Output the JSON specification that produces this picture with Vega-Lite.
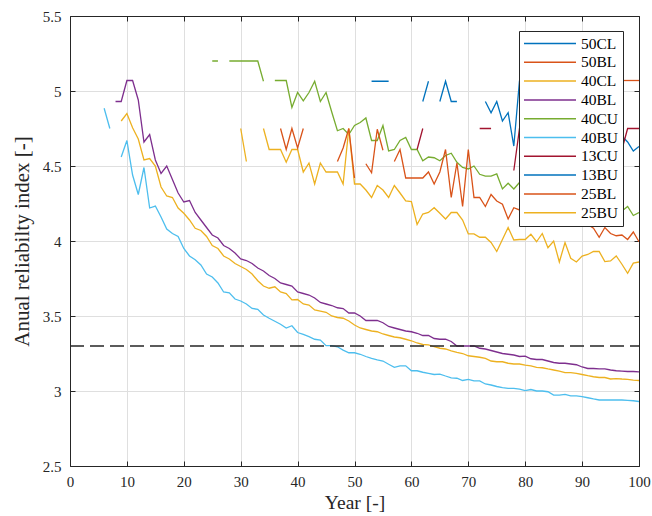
{
"$schema": "https://vega.github.io/schema/vega-lite/v6.json",
"width": 569, "height": 450,
"autosize": {"type": "none"},
"padding": {"left": 70, "top": 16, "right": 13, "bottom": 50},
"background": "white",
"datasets": {"threshold": [{"level": 3.3}]},
"config": {
  "view": {"stroke": null},
  "font": "Liberation Serif",
  "axis": {"labelFont": "Liberation Serif", "titleFont": "Liberation Serif", "labelFontSize": 15, "titleFontWeight": "normal", "labelColor": "#262626", "titleColor": "#262626", "tickColor": "#262626", "tickSize": 5, "tickWidth": 1, "domain": false, "labelFlush": false, "gridColor": "#DFDFDF", "gridWidth": 1, "gridOpacity": 1},
  "legend": {"orient": "none", "legendX": 449, "legendY": 15, "fillColor": "white", "strokeColor": "#262626", "padding": 4, "symbolType": "stroke", "symbolSize": 2704, "symbolStrokeWidth": 1.5, "labelFont": "Liberation Serif", "labelFontSize": 15.5, "labelColor": "#000000", "rowPadding": 1.8, "clipHeight": 17, "labelOffset": 4}
},
"layer": [
{
  "data": {"values": [
{"series":"40BL","year":8,"value":4.93},{"series":"40BL","year":9,"value":4.93},{"series":"40BL","year":10,"value":5.07},{"series":"40BL","year":11,"value":5.07},{"series":"40BL","year":12,"value":4.94},{"series":"40BL","year":13,"value":4.66},{"series":"40BL","year":14,"value":4.71},{"series":"40BL","year":15,"value":4.54},{"series":"40BL","year":16,"value":4.45},{"series":"40BL","year":17,"value":4.5},{"series":"40BL","year":18,"value":4.41},{"series":"40BL","year":19,"value":4.32},{"series":"40BL","year":20,"value":4.26},{"series":"40BL","year":21,"value":4.27},{"series":"40BL","year":22,"value":4.19},{"series":"40BL","year":23,"value":4.14},{"series":"40BL","year":24,"value":4.09},{"series":"40BL","year":25,"value":4.04},{"series":"40BL","year":26,"value":4.02},{"series":"40BL","year":27,"value":3.97},{"series":"40BL","year":28,"value":3.95},{"series":"40BL","year":29,"value":3.92},{"series":"40BL","year":30,"value":3.88},{"series":"40BL","year":31,"value":3.87},{"series":"40BL","year":32,"value":3.85},{"series":"40BL","year":33,"value":3.82},{"series":"40BL","year":34,"value":3.8},{"series":"40BL","year":35,"value":3.77},{"series":"40BL","year":36,"value":3.75},{"series":"40BL","year":37,"value":3.72},{"series":"40BL","year":38,"value":3.71},{"series":"40BL","year":39,"value":3.7},{"series":"40BL","year":40,"value":3.66},{"series":"40BL","year":41,"value":3.65},{"series":"40BL","year":42,"value":3.64},{"series":"40BL","year":43,"value":3.62},{"series":"40BL","year":44,"value":3.59},{"series":"40BL","year":45,"value":3.58},{"series":"40BL","year":46,"value":3.57},{"series":"40BL","year":47,"value":3.555},{"series":"40BL","year":48,"value":3.55},{"series":"40BL","year":49,"value":3.52},{"series":"40BL","year":50,"value":3.52},{"series":"40BL","year":51,"value":3.5},{"series":"40BL","year":52,"value":3.47},{"series":"40BL","year":53,"value":3.47},{"series":"40BL","year":54,"value":3.47},{"series":"40BL","year":55,"value":3.455},{"series":"40BL","year":56,"value":3.43},{"series":"40BL","year":57,"value":3.42},{"series":"40BL","year":58,"value":3.41},{"series":"40BL","year":59,"value":3.4},{"series":"40BL","year":60,"value":3.395},{"series":"40BL","year":61,"value":3.385},{"series":"40BL","year":62,"value":3.37},{"series":"40BL","year":63,"value":3.37},{"series":"40BL","year":64,"value":3.35},{"series":"40BL","year":65,"value":3.345},{"series":"40BL","year":66,"value":3.345},{"series":"40BL","year":67,"value":3.33},{"series":"40BL","year":68,"value":3.3},{"series":"40BL","year":69,"value":3.3},{"series":"40BL","year":70,"value":3.3},{"series":"40BL","year":71,"value":3.3},{"series":"40BL","year":72,"value":3.285},{"series":"40BL","year":73,"value":3.28},{"series":"40BL","year":74,"value":3.27},{"series":"40BL","year":75,"value":3.26},{"series":"40BL","year":76,"value":3.25},{"series":"40BL","year":77,"value":3.245},{"series":"40BL","year":78,"value":3.24},{"series":"40BL","year":79,"value":3.23},{"series":"40BL","year":80,"value":3.233},{"series":"40BL","year":81,"value":3.215},{"series":"40BL","year":82,"value":3.21},{"series":"40BL","year":83,"value":3.21},{"series":"40BL","year":84,"value":3.2},{"series":"40BL","year":85,"value":3.19},{"series":"40BL","year":86,"value":3.185},{"series":"40BL","year":87,"value":3.185},{"series":"40BL","year":88,"value":3.18},{"series":"40BL","year":89,"value":3.175},{"series":"40BL","year":90,"value":3.16},{"series":"40BL","year":91,"value":3.15},{"series":"40BL","year":92,"value":3.15},{"series":"40BL","year":93,"value":3.147},{"series":"40BL","year":94,"value":3.147},{"series":"40BL","year":95,"value":3.14},{"series":"40BL","year":96,"value":3.135},{"series":"40BL","year":97,"value":3.133},{"series":"40BL","year":98,"value":3.13},{"series":"40BL","year":99,"value":3.13},{"series":"40BL","year":100,"value":3.127},

{"series":"40CL","year":9,"value":4.8},{"series":"40CL","year":10,"value":4.85},{"series":"40CL","year":11,"value":4.755},{"series":"40CL","year":12,"value":4.68},{"series":"40CL","year":13,"value":4.54},{"series":"40CL","year":14,"value":4.55},{"series":"40CL","year":15,"value":4.5},{"series":"40CL","year":16,"value":4.36},{"series":"40CL","year":17,"value":4.3},{"series":"40CL","year":18,"value":4.29},{"series":"40CL","year":19,"value":4.22},{"series":"40CL","year":20,"value":4.185},{"series":"40CL","year":21,"value":4.14},{"series":"40CL","year":22,"value":4.085},{"series":"40CL","year":23,"value":4.07},{"series":"40CL","year":24,"value":4.03},{"series":"40CL","year":25,"value":3.97},{"series":"40CL","year":26,"value":3.95},{"series":"40CL","year":27,"value":3.9},{"series":"40CL","year":28,"value":3.88},{"series":"40CL","year":29,"value":3.85},{"series":"40CL","year":30,"value":3.83},{"series":"40CL","year":31,"value":3.81},{"series":"40CL","year":32,"value":3.78},{"series":"40CL","year":33,"value":3.735},{"series":"40CL","year":34,"value":3.7},{"series":"40CL","year":35,"value":3.685},{"series":"40CL","year":36,"value":3.695},{"series":"40CL","year":37,"value":3.66},{"series":"40CL","year":38,"value":3.65},{"series":"40CL","year":39,"value":3.607},{"series":"40CL","year":40,"value":3.61},{"series":"40CL","year":41,"value":3.58},{"series":"40CL","year":42,"value":3.573},{"series":"40CL","year":43,"value":3.54},{"series":"40CL","year":44,"value":3.533},{"series":"40CL","year":45,"value":3.525},{"series":"40CL","year":46,"value":3.5},{"series":"40CL","year":47,"value":3.49},{"series":"40CL","year":48,"value":3.485},{"series":"40CL","year":49,"value":3.467},{"series":"40CL","year":50,"value":3.44},{"series":"40CL","year":51,"value":3.42},{"series":"40CL","year":52,"value":3.41},{"series":"40CL","year":53,"value":3.4},{"series":"40CL","year":54,"value":3.395},{"series":"40CL","year":55,"value":3.38},{"series":"40CL","year":56,"value":3.37},{"series":"40CL","year":57,"value":3.36},{"series":"40CL","year":58,"value":3.355},{"series":"40CL","year":59,"value":3.345},{"series":"40CL","year":60,"value":3.335},{"series":"40CL","year":61,"value":3.32},{"series":"40CL","year":62,"value":3.31},{"series":"40CL","year":63,"value":3.307},{"series":"40CL","year":64,"value":3.295},{"series":"40CL","year":65,"value":3.285},{"series":"40CL","year":66,"value":3.28},{"series":"40CL","year":67,"value":3.267},{"series":"40CL","year":68,"value":3.258},{"series":"40CL","year":69,"value":3.25},{"series":"40CL","year":70,"value":3.235},{"series":"40CL","year":71,"value":3.23},{"series":"40CL","year":72,"value":3.225},{"series":"40CL","year":73,"value":3.218},{"series":"40CL","year":74,"value":3.2},{"series":"40CL","year":75,"value":3.195},{"series":"40CL","year":76,"value":3.195},{"series":"40CL","year":77,"value":3.185},{"series":"40CL","year":78,"value":3.18},{"series":"40CL","year":79,"value":3.18},{"series":"40CL","year":80,"value":3.173},{"series":"40CL","year":81,"value":3.167},{"series":"40CL","year":82,"value":3.158},{"series":"40CL","year":83,"value":3.155},{"series":"40CL","year":84,"value":3.147},{"series":"40CL","year":85,"value":3.14},{"series":"40CL","year":86,"value":3.133},{"series":"40CL","year":87,"value":3.122},{"series":"40CL","year":88,"value":3.122},{"series":"40CL","year":89,"value":3.118},{"series":"40CL","year":90,"value":3.11},{"series":"40CL","year":91,"value":3.102},{"series":"40CL","year":92,"value":3.095},{"series":"40CL","year":93,"value":3.09},{"series":"40CL","year":94,"value":3.09},{"series":"40CL","year":95,"value":3.08},{"series":"40CL","year":96,"value":3.083},{"series":"40CL","year":97,"value":3.08},{"series":"40CL","year":98,"value":3.078},{"series":"40CL","year":99,"value":3.073},{"series":"40CL","year":100,"value":3.07},

{"series":"40BU","year":6,"value":4.885},{"series":"40BU","year":7,"value":4.75},{"series":"40BU","year":8,"value":null},{"series":"40BU","year":9,"value":4.56},{"series":"40BU","year":10,"value":4.67},{"series":"40BU","year":11,"value":4.44},{"series":"40BU","year":12,"value":4.31},{"series":"40BU","year":13,"value":4.49},{"series":"40BU","year":14,"value":4.22},{"series":"40BU","year":15,"value":4.233},{"series":"40BU","year":16,"value":4.16},{"series":"40BU","year":17,"value":4.08},{"series":"40BU","year":18,"value":4.05},{"series":"40BU","year":19,"value":4.03},{"series":"40BU","year":20,"value":3.95},{"series":"40BU","year":21,"value":3.9},{"series":"40BU","year":22,"value":3.875},{"series":"40BU","year":23,"value":3.84},{"series":"40BU","year":24,"value":3.78},{"series":"40BU","year":25,"value":3.76},{"series":"40BU","year":26,"value":3.72},{"series":"40BU","year":27,"value":3.66},{"series":"40BU","year":28,"value":3.655},{"series":"40BU","year":29,"value":3.613},{"series":"40BU","year":30,"value":3.6},{"series":"40BU","year":31,"value":3.58},{"series":"40BU","year":32,"value":3.55},{"series":"40BU","year":33,"value":3.545},{"series":"40BU","year":34,"value":3.507},{"series":"40BU","year":35,"value":3.485},{"series":"40BU","year":36,"value":3.465},{"series":"40BU","year":37,"value":3.445},{"series":"40BU","year":38,"value":3.42},{"series":"40BU","year":39,"value":3.435},{"series":"40BU","year":40,"value":3.39},{"series":"40BU","year":41,"value":3.378},{"series":"40BU","year":42,"value":3.362},{"series":"40BU","year":43,"value":3.345},{"series":"40BU","year":44,"value":3.34},{"series":"40BU","year":45,"value":3.302},{"series":"40BU","year":46,"value":3.302},{"series":"40BU","year":47,"value":3.295},{"series":"40BU","year":48,"value":3.273},{"series":"40BU","year":49,"value":3.255},{"series":"40BU","year":50,"value":3.255},{"series":"40BU","year":51,"value":3.245},{"series":"40BU","year":52,"value":3.23},{"series":"40BU","year":53,"value":3.218},{"series":"40BU","year":54,"value":3.207},{"series":"40BU","year":55,"value":3.2},{"series":"40BU","year":56,"value":3.178},{"series":"40BU","year":57,"value":3.158},{"series":"40BU","year":58,"value":3.168},{"series":"40BU","year":59,"value":3.168},{"series":"40BU","year":60,"value":3.135},{"series":"40BU","year":61,"value":3.135},{"series":"40BU","year":62,"value":3.125},{"series":"40BU","year":63,"value":3.118},{"series":"40BU","year":64,"value":3.11},{"series":"40BU","year":65,"value":3.113},{"series":"40BU","year":66,"value":3.1},{"series":"40BU","year":67,"value":3.088},{"series":"40BU","year":68,"value":3.085},{"series":"40BU","year":69,"value":3.07},{"series":"40BU","year":70,"value":3.078},{"series":"40BU","year":71,"value":3.067},{"series":"40BU","year":72,"value":3.067},{"series":"40BU","year":73,"value":3.047},{"series":"40BU","year":74,"value":3.04},{"series":"40BU","year":75,"value":3.03},{"series":"40BU","year":76,"value":3.022},{"series":"40BU","year":77,"value":3.018},{"series":"40BU","year":78,"value":3.018},{"series":"40BU","year":79,"value":3.013},{"series":"40BU","year":80,"value":3.002},{"series":"40BU","year":81,"value":3.01},{"series":"40BU","year":82,"value":3.0},{"series":"40BU","year":83,"value":3.0},{"series":"40BU","year":84,"value":2.995},{"series":"40BU","year":85,"value":2.973},{"series":"40BU","year":86,"value":2.973},{"series":"40BU","year":87,"value":2.978},{"series":"40BU","year":88,"value":2.967},{"series":"40BU","year":89,"value":2.967},{"series":"40BU","year":90,"value":2.962},{"series":"40BU","year":91,"value":2.955},{"series":"40BU","year":92,"value":2.947},{"series":"40BU","year":93,"value":2.94},{"series":"40BU","year":94,"value":2.94},{"series":"40BU","year":95,"value":2.94},{"series":"40BU","year":96,"value":2.94},{"series":"40BU","year":97,"value":2.94},{"series":"40BU","year":98,"value":2.938},{"series":"40BU","year":99,"value":2.935},{"series":"40BU","year":100,"value":2.93},

{"series":"40CU","year":25,"value":5.2},{"series":"40CU","year":26,"value":5.2},{"series":"40CU","year":27,"value":null},{"series":"40CU","year":28,"value":5.2},{"series":"40CU","year":29,"value":5.2},{"series":"40CU","year":30,"value":5.2},{"series":"40CU","year":31,"value":5.2},{"series":"40CU","year":32,"value":5.2},{"series":"40CU","year":33,"value":5.2},{"series":"40CU","year":34,"value":5.065},{"series":"40CU","year":35,"value":null},{"series":"40CU","year":36,"value":5.07},{"series":"40CU","year":37,"value":5.07},{"series":"40CU","year":38,"value":5.07},{"series":"40CU","year":39,"value":4.89},{"series":"40CU","year":40,"value":4.99},{"series":"40CU","year":41,"value":4.935},{"series":"40CU","year":42,"value":4.99},{"series":"40CU","year":43,"value":5.065},{"series":"40CU","year":44,"value":4.93},{"series":"40CU","year":45,"value":4.99},{"series":"40CU","year":46,"value":4.86},{"series":"40CU","year":47,"value":4.735},{"series":"40CU","year":48,"value":4.75},{"series":"40CU","year":49,"value":4.71},{"series":"40CU","year":50,"value":4.77},{"series":"40CU","year":51,"value":4.79},{"series":"40CU","year":52,"value":4.82},{"series":"40CU","year":53,"value":4.67},{"series":"40CU","year":54,"value":4.67},{"series":"40CU","year":55,"value":4.77},{"series":"40CU","year":56,"value":4.6},{"series":"40CU","year":57,"value":4.61},{"series":"40CU","year":58,"value":4.67},{"series":"40CU","year":59,"value":4.69},{"series":"40CU","year":60,"value":4.61},{"series":"40CU","year":61,"value":4.61},{"series":"40CU","year":62,"value":4.535},{"series":"40CU","year":63,"value":4.56},{"series":"40CU","year":64,"value":4.555},{"series":"40CU","year":65,"value":4.535},{"series":"40CU","year":66,"value":4.57},{"series":"40CU","year":67,"value":4.585},{"series":"40CU","year":68,"value":4.525},{"series":"40CU","year":69,"value":4.49},{"series":"40CU","year":70,"value":4.48},{"series":"40CU","year":71,"value":4.5},{"series":"40CU","year":72,"value":4.445},{"series":"40CU","year":73,"value":4.433},{"series":"40CU","year":74,"value":4.433},{"series":"40CU","year":75,"value":4.447},{"series":"40CU","year":76,"value":4.347},{"series":"40CU","year":77,"value":4.385},{"series":"40CU","year":78,"value":4.347},{"series":"40CU","year":79,"value":4.39},{"series":"40CU","year":80,"value":4.36},{"series":"40CU","year":81,"value":4.4},{"series":"40CU","year":82,"value":4.33},{"series":"40CU","year":83,"value":4.35},{"series":"40CU","year":84,"value":4.3},{"series":"40CU","year":85,"value":4.32},{"series":"40CU","year":86,"value":4.28},{"series":"40CU","year":87,"value":4.3},{"series":"40CU","year":88,"value":4.26},{"series":"40CU","year":89,"value":4.28},{"series":"40CU","year":90,"value":4.25},{"series":"40CU","year":91,"value":4.27},{"series":"40CU","year":92,"value":4.24},{"series":"40CU","year":93,"value":4.25},{"series":"40CU","year":94,"value":4.22},{"series":"40CU","year":95,"value":4.24},{"series":"40CU","year":96,"value":4.21},{"series":"40CU","year":97,"value":4.2},{"series":"40CU","year":98,"value":4.23},{"series":"40CU","year":99,"value":4.17},{"series":"40CU","year":100,"value":4.19},

{"series":"25BU","year":30,"value":4.75},{"series":"25BU","year":31,"value":4.53},{"series":"25BU","year":32,"value":null},{"series":"25BU","year":34,"value":4.75},{"series":"25BU","year":35,"value":4.61},{"series":"25BU","year":36,"value":4.61},{"series":"25BU","year":37,"value":4.61},{"series":"25BU","year":38,"value":4.525},{"series":"25BU","year":39,"value":4.61},{"series":"25BU","year":40,"value":4.61},{"series":"25BU","year":41,"value":4.46},{"series":"25BU","year":42,"value":4.52},{"series":"25BU","year":43,"value":4.38},{"series":"25BU","year":44,"value":4.52},{"series":"25BU","year":45,"value":4.46},{"series":"25BU","year":46,"value":4.46},{"series":"25BU","year":47,"value":4.46},{"series":"25BU","year":48,"value":4.38},{"series":"25BU","year":49,"value":4.75},{"series":"25BU","year":50,"value":4.38},{"series":"25BU","year":51,"value":4.38},{"series":"25BU","year":52,"value":4.34},{"series":"25BU","year":53,"value":4.29},{"series":"25BU","year":54,"value":4.37},{"series":"25BU","year":55,"value":4.34},{"series":"25BU","year":56,"value":4.29},{"series":"25BU","year":57,"value":4.37},{"series":"25BU","year":58,"value":4.32},{"series":"25BU","year":59,"value":4.267},{"series":"25BU","year":60,"value":4.262},{"series":"25BU","year":61,"value":4.11},{"series":"25BU","year":62,"value":4.18},{"series":"25BU","year":63,"value":4.19},{"series":"25BU","year":64,"value":4.222},{"series":"25BU","year":65,"value":4.185},{"series":"25BU","year":66,"value":4.147},{"series":"25BU","year":67,"value":4.19},{"series":"25BU","year":68,"value":4.19},{"series":"25BU","year":69,"value":4.14},{"series":"25BU","year":70,"value":4.047},{"series":"25BU","year":71,"value":4.047},{"series":"25BU","year":72,"value":4.025},{"series":"25BU","year":73,"value":4.025},{"series":"25BU","year":74,"value":3.99},{"series":"25BU","year":75,"value":3.93},{"series":"25BU","year":76,"value":4.01},{"series":"25BU","year":77,"value":4.09},{"series":"25BU","year":78,"value":4.007},{"series":"25BU","year":79,"value":4.01},{"series":"25BU","year":80,"value":4.01},{"series":"25BU","year":81,"value":4.045},{"series":"25BU","year":82,"value":3.995},{"series":"25BU","year":83,"value":4.05},{"series":"25BU","year":84,"value":3.955},{"series":"25BU","year":85,"value":4.0},{"series":"25BU","year":86,"value":3.86},{"series":"25BU","year":87,"value":3.99},{"series":"25BU","year":88,"value":3.885},{"series":"25BU","year":89,"value":3.86},{"series":"25BU","year":90,"value":3.9},{"series":"25BU","year":91,"value":3.91},{"series":"25BU","year":92,"value":3.93},{"series":"25BU","year":93,"value":3.93},{"series":"25BU","year":94,"value":3.863},{"series":"25BU","year":95,"value":3.867},{"series":"25BU","year":96,"value":3.9},{"series":"25BU","year":97,"value":3.845},{"series":"25BU","year":98,"value":3.785},{"series":"25BU","year":99,"value":3.852},{"series":"25BU","year":100,"value":3.86},

{"series":"25BL","year":37,"value":4.75},{"series":"25BL","year":38,"value":4.61},{"series":"25BL","year":39,"value":4.75},{"series":"25BL","year":40,"value":4.62},{"series":"25BL","year":41,"value":4.75},{"series":"25BL","year":42,"value":null},{"series":"25BL","year":47,"value":4.53},{"series":"25BL","year":48,"value":4.62},{"series":"25BL","year":49,"value":4.75},{"series":"25BL","year":50,"value":4.42},{"series":"25BL","year":51,"value":null},{"series":"25BL","year":52,"value":4.515},{"series":"25BL","year":53,"value":4.455},{"series":"25BL","year":54,"value":4.745},{"series":"25BL","year":55,"value":4.605},{"series":"25BL","year":56,"value":null},{"series":"25BL","year":57,"value":4.53},{"series":"25BL","year":58,"value":4.61},{"series":"25BL","year":59,"value":4.42},{"series":"25BL","year":60,"value":4.42},{"series":"25BL","year":61,"value":4.42},{"series":"25BL","year":62,"value":4.42},{"series":"25BL","year":63,"value":4.46},{"series":"25BL","year":64,"value":4.38},{"series":"25BL","year":65,"value":4.46},{"series":"25BL","year":66,"value":4.61},{"series":"25BL","year":67,"value":4.29},{"series":"25BL","year":68,"value":4.52},{"series":"25BL","year":69,"value":4.23},{"series":"25BL","year":70,"value":4.61},{"series":"25BL","year":71,"value":4.29},{"series":"25BL","year":72,"value":4.29},{"series":"25BL","year":73,"value":4.23},{"series":"25BL","year":74,"value":4.31},{"series":"25BL","year":75,"value":4.267},{"series":"25BL","year":76,"value":4.245},{"series":"25BL","year":77,"value":4.147},{"series":"25BL","year":78,"value":4.222},{"series":"25BL","year":79,"value":4.207},{"series":"25BL","year":80,"value":4.22},{"series":"25BL","year":81,"value":4.17},{"series":"25BL","year":82,"value":4.2},{"series":"25BL","year":83,"value":4.15},{"series":"25BL","year":84,"value":4.18},{"series":"25BL","year":85,"value":4.13},{"series":"25BL","year":86,"value":4.16},{"series":"25BL","year":87,"value":4.12},{"series":"25BL","year":88,"value":4.15},{"series":"25BL","year":89,"value":4.11},{"series":"25BL","year":90,"value":4.13},{"series":"25BL","year":91,"value":4.11},{"series":"25BL","year":92,"value":4.085},{"series":"25BL","year":93,"value":4.025},{"series":"25BL","year":94,"value":4.09},{"series":"25BL","year":95,"value":4.05},{"series":"25BL","year":96,"value":4.035},{"series":"25BL","year":97,"value":4.04},{"series":"25BL","year":98,"value":4.01},{"series":"25BL","year":99,"value":4.06},{"series":"25BL","year":100,"value":3.995},

{"series":"50BL","year":96,"value":5.07},{"series":"50BL","year":97,"value":5.07},{"series":"50BL","year":98,"value":5.07},{"series":"50BL","year":99,"value":5.07},{"series":"50BL","year":100,"value":5.07},

{"series":"50CL","year":53,"value":5.065},{"series":"50CL","year":54,"value":5.065},{"series":"50CL","year":55,"value":5.065},{"series":"50CL","year":56,"value":5.065},{"series":"50CL","year":57,"value":null},{"series":"50CL","year":62,"value":4.93},{"series":"50CL","year":63,"value":5.065},{"series":"50CL","year":64,"value":null},{"series":"50CL","year":65,"value":4.93},{"series":"50CL","year":66,"value":5.065},{"series":"50CL","year":67,"value":4.93},{"series":"50CL","year":68,"value":4.93},

{"series":"13BU","year":73,"value":4.93},{"series":"13BU","year":74,"value":4.855},{"series":"13BU","year":75,"value":4.93},{"series":"13BU","year":76,"value":4.8},{"series":"13BU","year":77,"value":4.855},{"series":"13BU","year":78,"value":4.633},{"series":"13BU","year":79,"value":5.07},{"series":"13BU","year":80,"value":4.95},{"series":"13BU","year":81,"value":4.88},{"series":"13BU","year":82,"value":4.93},{"series":"13BU","year":83,"value":4.8},{"series":"13BU","year":84,"value":4.86},{"series":"13BU","year":85,"value":4.75},{"series":"13BU","year":86,"value":4.82},{"series":"13BU","year":87,"value":4.7},{"series":"13BU","year":88,"value":4.78},{"series":"13BU","year":89,"value":4.72},{"series":"13BU","year":90,"value":4.8},{"series":"13BU","year":91,"value":4.68},{"series":"13BU","year":92,"value":4.74},{"series":"13BU","year":93,"value":4.7},{"series":"13BU","year":94,"value":4.76},{"series":"13BU","year":95,"value":4.68},{"series":"13BU","year":96,"value":4.72},{"series":"13BU","year":97,"value":4.7},{"series":"13BU","year":98,"value":4.66},{"series":"13BU","year":99,"value":4.6},{"series":"13BU","year":100,"value":4.63},

{"series":"13CU","year":61,"value":4.61},{"series":"13CU","year":62,"value":4.75},{"series":"13CU","year":63,"value":null},{"series":"13CU","year":72,"value":4.75},{"series":"13CU","year":73,"value":4.75},{"series":"13CU","year":74,"value":4.75},{"series":"13CU","year":75,"value":null},{"series":"13CU","year":78,"value":4.47},{"series":"13CU","year":79,"value":4.75},{"series":"13CU","year":80,"value":4.75},{"series":"13CU","year":81,"value":4.75},{"series":"13CU","year":82,"value":4.61},{"series":"13CU","year":83,"value":4.75},{"series":"13CU","year":84,"value":4.75},{"series":"13CU","year":85,"value":4.61},{"series":"13CU","year":86,"value":4.75},{"series":"13CU","year":87,"value":4.75},{"series":"13CU","year":88,"value":4.75},{"series":"13CU","year":89,"value":4.61},{"series":"13CU","year":90,"value":4.75},{"series":"13CU","year":91,"value":4.75},{"series":"13CU","year":92,"value":4.75},{"series":"13CU","year":93,"value":4.61},{"series":"13CU","year":94,"value":4.75},{"series":"13CU","year":95,"value":4.75},{"series":"13CU","year":96,"value":4.75},{"series":"13CU","year":97,"value":4.61},{"series":"13CU","year":98,"value":4.75},{"series":"13CU","year":99,"value":4.75},{"series":"13CU","year":100,"value":4.75}
  ]},
  "mark": {"type": "line", "strokeWidth": 1.3, "clip": true},
  "encoding": {
    "x": {"field": "year", "type": "quantitative", "scale": {"domain": [0, 100], "nice": false}, "axis": {"orient": "bottom", "values": [0,10,20,30,40,50,60,70,80,90,100], "offset": -5, "grid": true, "labelFont": "Liberation Serif", "labelFontSize": 15, "title": "Year [-]", "titleFontSize": 19.5, "labelPadding": 8, "titlePadding": 4}},
    "y": {"field": "value", "type": "quantitative", "scale": {"domain": [2.5, 5.5], "nice": false, "zero": false}, "axis": {"orient": "left", "values": [2.5,3,3.5,4,4.5,5,5.5], "format": "~g", "offset": -5, "grid": true, "labelFont": "Liberation Serif", "labelFontSize": 15, "title": "Anual reliabilty index [-]", "titleFontSize": 21, "labelPadding": 9, "titlePadding": 10}},
    "color": {"field": "series", "type": "nominal", "sort": null, "scale": {"domain": ["50CL","50BL","40CL","40BL","40CU","40BU","13CU","13BU","25BL","25BU"], "range": ["#0072BD","#D95319","#EDB120","#7E2F8E","#77AC30","#4DBEEE","#A2142F","#0072BD","#D95319","#EDB120"]}, "legend": {"title": null}}
  }
},
{
  "data": {"name": "threshold"},
  "mark": {"type": "rule", "strokeDash": [14, 6], "color": "#262626", "strokeWidth": 1.5},
  "encoding": {
    "x": {"datum": 0, "type": "quantitative", "axis": {"orient": "top", "values": [0,10,20,30,40,50,60,70,80,90,100], "offset": -5, "labels": false, "grid": false, "title": null}},
    "x2": {"datum": 100},
    "y": {"field": "level", "type": "quantitative", "axis": {"orient": "right", "values": [2.5,3,3.5,4,4.5,5,5.5], "offset": -5, "labels": false, "grid": false, "title": null}}
  }
},
{
  "data": {"name": "threshold"},
  "mark": {"type": "rect", "fill": "white", "fillOpacity": 0, "stroke": "#262626", "strokeWidth": 1, "strokeOpacity": 1, "clip": false, "xOffset": 0.5, "x2Offset": 0.5, "yOffset": 0.5, "y2Offset": 0.5},
  "encoding": {
    "x": {"datum": 0, "type": "quantitative", "axis": null},
    "x2": {"datum": 100},
    "y": {"datum": 2.5, "type": "quantitative", "axis": null},
    "y2": {"datum": 5.5}
  }
}
],
"resolve": {"axis": {"x": "independent", "y": "independent"}}
}
